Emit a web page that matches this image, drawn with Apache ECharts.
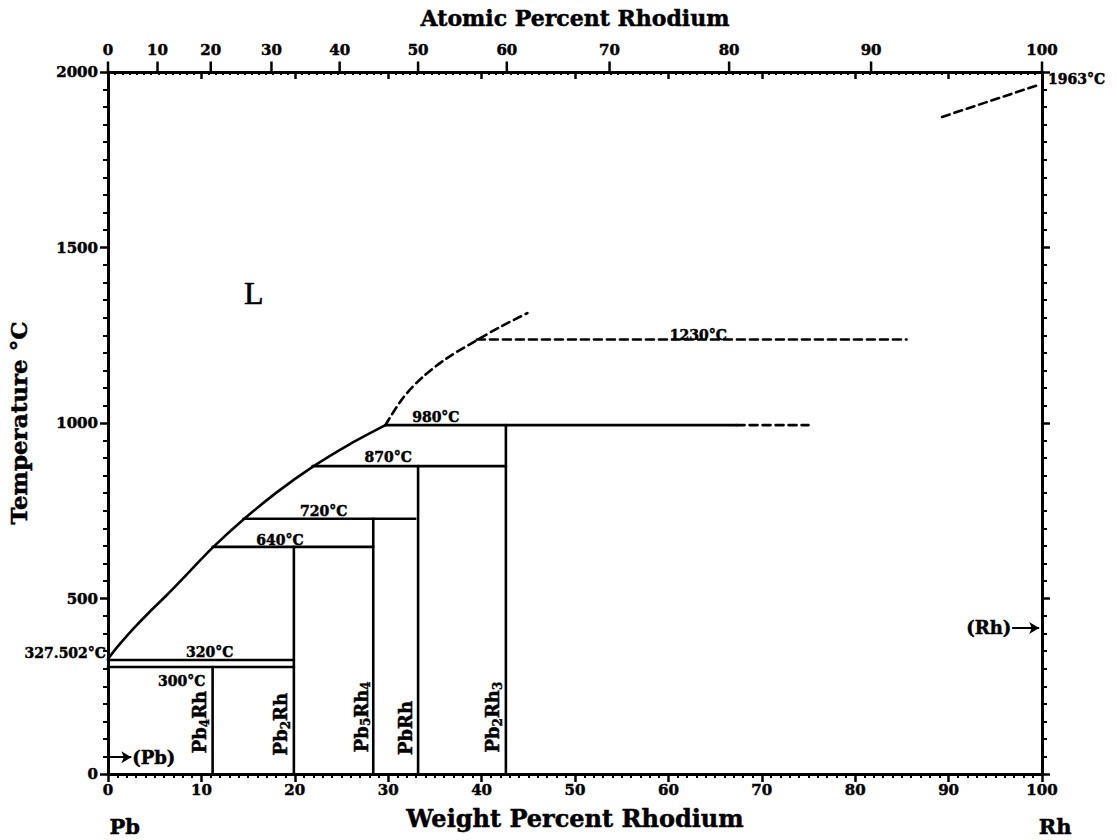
<!DOCTYPE html>
<html>
<head>
<meta charset="utf-8">
<script src="https://cdn.jsdelivr.net/npm/echarts@6/dist/echarts.min.js"></script>
<style>
html,body{margin:0;padding:0;background:#fff;}
#chart{width:1117px;height:840px;}
</style>
</head>
<body>
<div id="chart"></div>
<script>
// ---------- data (weight % Rh, temperature °C) ----------
const atomicLabels = [0, 10, 20, 30, 40, 50, 60, 70, 80, 90, 100];
const atomicAtWeight = [0, 5.3, 11.0, 17.5, 24.8, 33.2, 42.7, 53.7, 66.5, 81.7, 100];

const liquidusSolid = [[0,327.5],[1,362],[2,393],[3,422],[4.5,463],[6.3,510],[8.7,576],[11.2,645],[14.5,725],[18.1,803],[21.9,875],[25.9,940],[29.7,994]];
const liquidusDashed = [[29.7,994],[31.6,1072],[33.7,1131],[36.3,1185],[39.5,1236],[42,1274],[44.9,1313]];
const rhLiquidusDashed = [[89.3,1872],[99.6,1963]];

// isotherms: [from wt%, to wt%, T]
const solidIsotherms = [[0,19.9,325],[0,19.9,305],[11.2,28.4,647],[14.5,32.9,727],[21.9,42.6,877],[29.7,67.3,994]];
const dashedIsotherms = [[67.3,75,994],[39.5,85.5,1238]];

// compounds: [wt%, top T]
const compounds = [[11.2,305],[19.9,647],[28.4,727],[33.2,877],[42.6,994]];

// text annotations: [wt%, T, text]
const tempLabels = [[10.9,349,'320°C'],[7.9,264,'300°C'],[18.4,668,'640°C'],[23.1,749,'720°C'],[30.0,902,'870°C'],[35.1,1016,'980°C'],[63.2,1250,'1230°C']];
const phaseLabels = [[9.85,148,'Pb{s|4}Rh'],[18.5,142,'Pb{s|2}Rh'],[27.1,163,'Pb{s|5}Rh{s|4}'],[31.9,131,'PbRh'],[41.2,162,'Pb{s|2}Rh{s|3}']];
const regionLabels = [[15.6,1370,'L']];
const pbMark = [4.9, 48, '(Pb)'];
const rhMark = [94.3, 416, '(Rh)'];
const meltPb = [0, 345, '327.502°C'];
const meltRh = [100, 1981, '1963°C'];
const endLabels = [[1.8,0,'Pb'],[101.4,0,'Rh']];

// ---------- chart ----------
const FONT = 'DejaVu Serif';
const chart = echarts.init(document.getElementById('chart'), null, {renderer: 'svg'});
const black = '#000';
const lineW = 2.6;
const heavy = {textBorderColor: '#000', textBorderWidth: 0.5};

const series = [];
function lineSeries(data, dashed, smooth) {
  series.push({
    type: 'line', data: data, xAxisIndex: 0, yAxisIndex: 0,
    symbol: 'none', smooth: smooth || false, silent: true, animation: false,
    lineStyle: {color: black, width: lineW, type: dashed ? [8, 5] : 'solid', cap: 'round'},
    z: 5
  });
}
lineSeries(liquidusSolid, false, 0.3);
lineSeries(liquidusDashed, true, 0.3);
lineSeries(rhLiquidusDashed, true, false);
solidIsotherms.forEach(d => lineSeries([[d[0], d[2]], [d[1], d[2]]], false));
dashedIsotherms.forEach(d => lineSeries([[d[0], d[2]], [d[1], d[2]]], true));
compounds.forEach(d => lineSeries([[d[0], 0], [d[0], d[1]]], false));

function textSeries(items, labelOpt, xIndex) {
  series.push({
    type: 'scatter', xAxisIndex: xIndex || 0, yAxisIndex: 0, clip: false,
    symbolSize: 0, silent: true, animation: false, z: 10,
    itemStyle: {opacity: 1},
    data: items.map(d => ({value: [d[0], d[1]], name: d[2]})),
    label: Object.assign({show: true, formatter: p => p.name, color: black,
      fontFamily: FONT, fontWeight: 'bold'}, heavy, labelOpt)
  });
}
textSeries(tempLabels, {position: 'inside', fontSize: 14});
textSeries(phaseLabels, {position: 'inside', rotate: 90, fontSize: 18,
  rich: {s: {fontSize: 12, fontFamily: FONT, fontWeight: 'bold', color: black, textBorderColor: '#000', textBorderWidth: 0.4, verticalAlign: 'bottom', padding: [10, 0, 0, 0]}}});
textSeries(regionLabels, {position: 'inside', fontSize: 32, fontWeight: 'normal', fontFamily: 'Liberation Serif', textBorderWidth: 0.6});
textSeries([pbMark, rhMark], {position: 'inside', fontSize: 18});
textSeries([meltPb], {position: 'left', distance: 2, fontSize: 14});
textSeries([meltRh], {position: 'right', distance: 6, fontSize: 14});
textSeries(endLabels, {position: 'bottom', distance: 42, fontSize: 21});

// arrows for (Pb) and (Rh)
series.push({
  type: 'line', data: [], xAxisIndex: 0, yAxisIndex: 0, silent: true, animation: false,
  markLine: {
    silent: true, animation: false, symbol: ['none', 'arrow'], symbolSize: [9, 10],
    label: {show: false},
    lineStyle: {color: black, width: 2, type: 'solid', opacity: 1},
    data: [
      [{coord: [0.2, pbMark[1]]}, {coord: [2.5, pbMark[1]]}],
      [{coord: [96.8, rhMark[1]]}, {coord: [99.7, rhMark[1]]}]
    ]
  }
});

// top axis (atomic percent) major ticks + labels
series.push({
  type: 'scatter', xAxisIndex: 1, yAxisIndex: 0, clip: false, silent: true, animation: false,
  symbol: 'rect', symbolSize: [2.5, 11], symbolOffset: [0, -5],
  itemStyle: {color: black, opacity: 1}, z: 12,
  data: atomicAtWeight.map((w, i) => ({value: [w, 2000], name: String(atomicLabels[i])})),
  label: Object.assign({show: true, position: 'top', distance: 4, formatter: p => p.name, color: black,
    fontFamily: FONT, fontWeight: 'bold', fontSize: 15}, heavy)
});

const axisLineStyle = {color: black, width: 3};
const nameStyle = Object.assign({fontFamily: FONT, fontWeight: 'bold', color: black}, heavy);
const tickLabel = Object.assign({color: black, fontFamily: FONT, fontWeight: 'bold', fontSize: 15}, heavy);
const option = {
  backgroundColor: '#fff',
  animation: false,
  grid: {left: 108, right: 75, top: 72, bottom: 66, containLabel: false, outerBoundsMode: 'none'},
  xAxis: [
    {
      type: 'value', position: 'bottom', min: 0, max: 100, interval: 10,
      name: 'Weight Percent Rhodium', nameLocation: 'middle', nameGap: 32,
      nameTextStyle: Object.assign({fontSize: 24}, nameStyle),
      axisLine: {show: true, lineStyle: axisLineStyle},
      axisTick: {show: true, length: 8, lineStyle: {color: black, width: 2.5}},
      minorTick: {show: true, splitNumber: 10, length: 4, lineStyle: {color: black, width: 2}},
      axisLabel: Object.assign({margin: 8}, tickLabel),
      splitLine: {show: false}
    },
    {
      type: 'value', position: 'top', min: 0, max: 100, interval: 10,
      name: 'Atomic Percent Rhodium', nameLocation: 'middle', nameGap: 43,
      nameTextStyle: Object.assign({fontSize: 22}, nameStyle),
      axisLine: {show: true, onZero: false, lineStyle: axisLineStyle},
      axisTick: {show: true, inside: true, length: 7, lineStyle: {color: black, width: 2.5}},
      minorTick: {show: true, splitNumber: 13, length: 3, lineStyle: {color: black, width: 2}},
      axisLabel: {show: false},
      splitLine: {show: false}
    }
  ],
  yAxis: [
    {
      type: 'value', position: 'left', min: 0, max: 2000, interval: 500,
      name: 'Temperature °C', nameLocation: 'middle', nameGap: 78, nameRotate: 90,
      nameTextStyle: Object.assign({fontSize: 23}, nameStyle),
      axisLine: {show: true, lineStyle: axisLineStyle},
      axisTick: {show: true, length: 8, lineStyle: {color: black, width: 2.5}},
      minorTick: {show: true, splitNumber: 10, length: 5, lineStyle: {color: black, width: 2}},
      axisLabel: Object.assign({margin: 10, formatter: v => String(v)}, tickLabel),
      splitLine: {show: false}
    },
    {
      type: 'value', position: 'right', min: 0, max: 2000, interval: 500,
      axisLine: {show: true, onZero: false, lineStyle: axisLineStyle},
      axisTick: {show: true, length: 8, lineStyle: {color: black, width: 2.5}},
      minorTick: {show: true, splitNumber: 10, length: 5, lineStyle: {color: black, width: 2}},
      axisLabel: {show: false},
      splitLine: {show: false}
    }
  ],
  series: series
};
chart.setOption(option);
</script>
</body>
</html>
